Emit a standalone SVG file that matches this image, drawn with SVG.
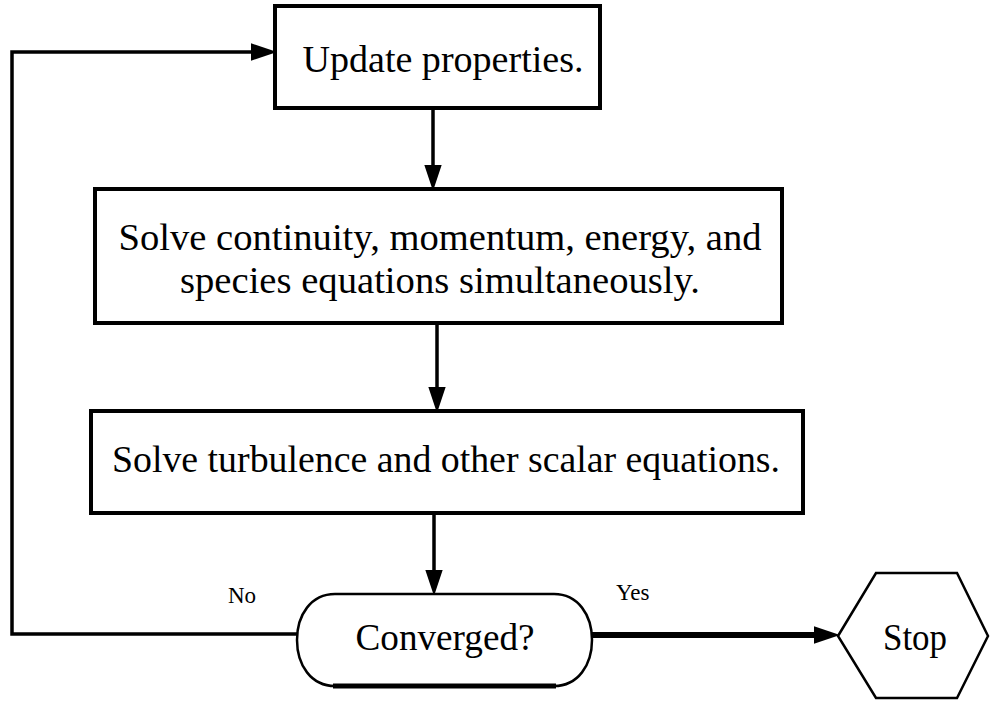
<svg xmlns="http://www.w3.org/2000/svg" width="990" height="702" viewBox="0 0 990 702">
<style>
.box{fill:#fff;stroke:#000;stroke-width:4}
text{font-family:'Liberation Serif','Tinos','Times New Roman','DejaVu Serif',serif;fill:#000}
.t{font-size:37px;text-anchor:middle}
.lbl{font-size:23px}
.c{fill:none;stroke:#000;stroke-width:3.5}
</style>
<defs>
<marker id="ah" markerUnits="userSpaceOnUse" markerWidth="26" markerHeight="18" refX="0" refY="8" orient="auto" viewBox="0 0 24 16">
<path d="M0,0 L24,8 L0,16 Z" fill="#000"/>
</marker>
</defs>
<rect width="990" height="702" fill="#fff"/>
<g id="connectors">
<path class="c" d="M297,634 H12 V52 H251" marker-end="url(#ah)"/>
<path class="c" d="M433,108 V165" marker-end="url(#ah)"/>
<path class="c" d="M437,323 V387" marker-end="url(#ah)"/>
<path class="c" d="M434,513 V570" marker-end="url(#ah)"/>
<path class="c" style="stroke-width:6" d="M592,635 H814" marker-end="url(#ah)"/>
<text class="lbl" x="228" y="603">No</text>
<text class="lbl" x="616" y="600">Yes</text>
</g>
<g id="update">
<rect class="box" x="275" y="6" width="325" height="102"/>
<text class="t" x="443" y="72" textLength="281" lengthAdjust="spacingAndGlyphs">Update properties.</text>
</g>
<g id="solve1">
<rect class="box" x="95" y="189" width="687" height="134"/>
<text class="t" x="440" y="250" textLength="643" lengthAdjust="spacingAndGlyphs">Solve continuity, momentum, energy, and</text>
<text class="t" x="440" y="293" textLength="520" lengthAdjust="spacingAndGlyphs">species equations simultaneously.</text>
</g>
<g id="solve2">
<rect class="box" x="91" y="411" width="712" height="102"/>
<text class="t" x="446" y="472" textLength="668" lengthAdjust="spacingAndGlyphs">Solve turbulence and other scalar equations.</text>
</g>
<g id="converged">
<path d="M335,594 H554 C578,594 592,615 592,640 C592,665 578,686 554,686 H335 C311,686 297,665 297,640 C297,615 311,594 335,594 Z" fill="#fff" stroke="#000" stroke-width="2.5"/>
<path d="M333,686 H556" stroke="#000" stroke-width="5"/>
<text class="t" x="445" y="650" textLength="179" lengthAdjust="spacingAndGlyphs">Converged?</text>
</g>
<g id="stop">
<polygon points="838,636 876,573 957,573 988,636 957,698 876,698" fill="#fff" stroke="#000" stroke-width="2.5"/>
<text class="t" x="915" y="650" textLength="64" lengthAdjust="spacingAndGlyphs">Stop</text>
</g>
</svg>
